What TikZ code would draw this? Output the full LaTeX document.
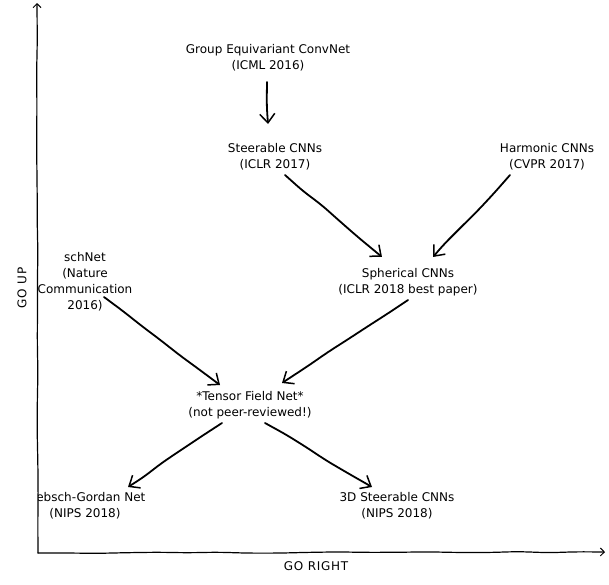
\documentclass[tikz,border=0pt]{standalone}
\usepackage{fontspec}
\setmainfont{DejaVu Sans}
\usetikzlibrary{arrows.meta,decorations.pathmorphing,calc}
\begin{document}
\begin{tikzpicture}[x=1pt,y=-1pt,
  lbl/.style={align=center,font=\fontsize{12}{16}\selectfont,inner sep=0pt},
  axlbl/.style={font=\fontsize{12}{14}\selectfont\addfontfeature{LetterSpace=6},inner sep=0pt},
  conn/.style={line width=1.8pt,line cap=round,
    -{Straight Barb[length=9pt,width=15pt,line width=1.5pt]},
    decorate,decoration={random steps,segment length=24pt,amplitude=0.9pt},
    rounded corners=8pt},
  axisline/.style={line width=1.2pt,line cap=round,
    -{Straight Barb[length=4pt,width=8pt,line width=1pt]},
    decorate,decoration={random steps,segment length=30pt,amplitude=0.6pt},
    rounded corners=10pt}]
\pgfmathsetseed{7}
\useasboundingbox (0,0) rectangle (609,584);

% axes
\coordinate (origin) at (38,553);
\coordinate (ytop) at (37,3);
\coordinate (xend) at (605,552);
\draw[axisline] (origin) -- (ytop);
\draw[axisline] (origin) -- (xend);
\node[axlbl] (xlab) at (316,566) {GO RIGHT};
\node[axlbl,rotate=90] (ylab) at (22,288) {GO UP};

% nodes
\node[lbl] (grp)   at (268,58)  {Group Equivariant ConvNet\\(ICML 2016)};
\node[lbl] (steer) at (275,157) {Steerable CNNs\\(ICLR 2017)};
\node[lbl] (harm)  at (547,157) {Harmonic CNNs\\(CVPR 2017)};
\node[lbl] (sch)   at (85,282)  {schNet\\(Nature\\Communication\\2016)};
\node[lbl] (sph)   at (408,282) {Spherical CNNs\\(ICLR 2018 best paper)};
\node[lbl] (tfn)   at (250,405) {*Tensor Field Net*\\(not peer-reviewed!)};
\begin{scope}
  \clip (38,0) rectangle (609,553);
  \node[lbl] (cg) at (85,506) {Clebsch-Gordan Net\\(NIPS 2018)};
\end{scope}
\node[lbl] (sd)    at (397,506) {3D Steerable CNNs\\(NIPS 2018)};

% connectors
\draw[conn] ($(grp)+(-1,24)$) -- ($(steer)+(-7,-33)$);
\draw[conn] ($(steer)+(10,18)$) -- ($(sph)+(-26,-25)$);
\draw[conn] ($(harm)+(-37,18)$) -- ($(sph)+(25,-25)$);
\draw[conn] ($(sch)+(19,15)$) -- ($(tfn)+(-30,-20)$);
\draw[conn] ($(sph)+(0,18)$) -- ($(tfn)+(32,-22)$);
\draw[conn] ($(tfn)+(-28,18)$) -- ($(cg)+(43,-19)$);
\draw[conn] ($(tfn)+(15,18)$) -- ($(sd)+(-25,-19)$);
\end{tikzpicture}
\end{document}
